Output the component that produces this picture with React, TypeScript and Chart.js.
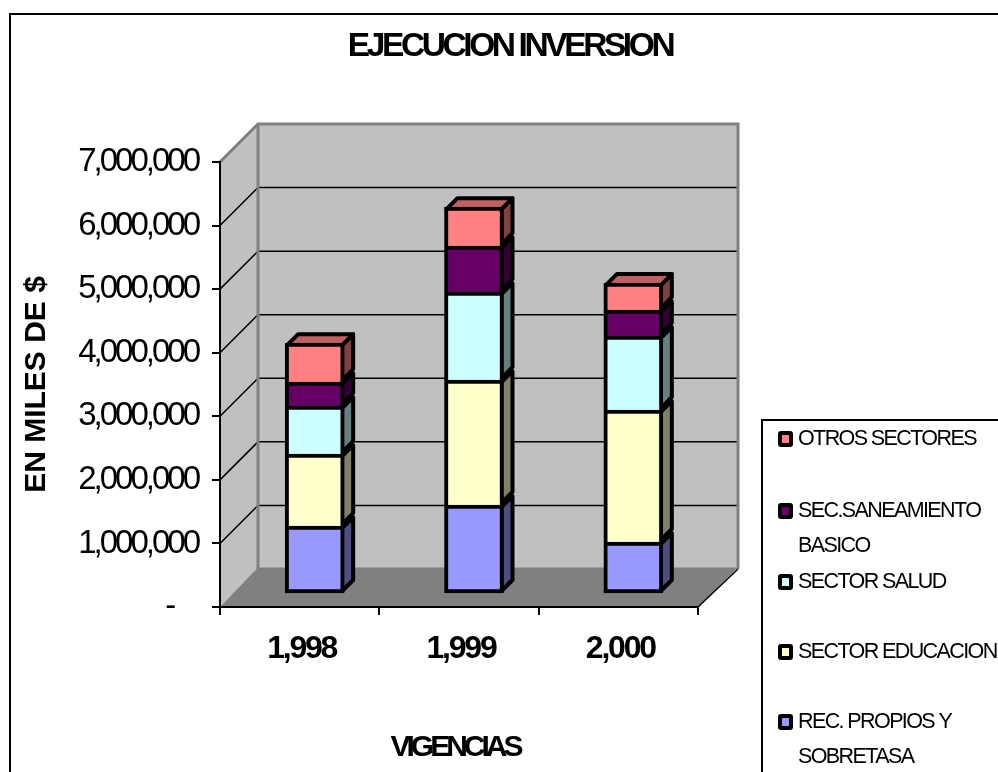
import React, { useEffect, useRef } from "react";
import { Chart, registerables } from "chart.js";

Chart.register(...registerables);

const FONT = '"Liberation Sans", Arial, sans-serif';

const categories = ["1,998", "1,999", "2,000"];
const chartTitle = "EJECUCION INVERSION";
const yTitle = "EN MILES DE $";
const xTitle = "VIGENCIAS";

const recPropios = [1069000, 1400000, 818000];
const educacion = [1132000, 1965000, 2075000];
const salud = [755000, 1384000, 1164000];
const saneamiento = [377000, 723000, 409000];
const otros = [613000, 613000, 425000];

const seriesNames = [
  "REC. PROPIOS Y SOBRETASA",
  "SECTOR EDUCACION",
  "SECTOR SALUD",
  "SEC.SANEAMIENTO BASICO",
  "OTROS SECTORES",
];
const seriesValues = [recPropios, educacion, salud, saneamiento, otros];
const frontColors = ["#9999FF", "#FFFFCC", "#CCFFFF", "#660066", "#FF8080"];
const sideColors = ["#4D4D80", "#808066", "#668080", "#330033", "#804040"];
const topColor = "#C06060";

const legendRows = [
  { series: 4, lines: ["OTROS SECTORES"], y: 439 },
  { series: 3, lines: ["SEC.SANEAMIENTO", "BASICO"], y: 511 },
  { series: 2, lines: ["SECTOR SALUD"], y: 582 },
  { series: 1, lines: ["SECTOR EDUCACION"], y: 652 },
  { series: 0, lines: ["REC. PROPIOS Y", "SOBRETASA"], y: 722 },
];

const WALL_X = 38;
const WALL_Y = 38;
const BAR_SHIFT_X = 15;
const BAR_SHIFT_Y = 13;
const BAR_DEPTH = 11;
const BAR_LINE = 4;

function spaced(obj: any, method: string, spacing: string, dx = 0) {
  const original = obj[method];
  obj[method] = function (...args: any[]) {
    const ctx = this.ctx;
    ctx.save();
    ctx.letterSpacing = spacing;
    ctx.translate(dx, 0);
    original.apply(this, args);
    ctx.restore();
  };
}

const chart3d = {
  id: "chart3d",
  afterLayout(chart: any) {
    const t = chart.titleBlock;
    if (t && !t.__patched) {
      t.__patched = true;
      spaced(t, "draw", "-3.4px");
    }
    if (t) {
      t.left = 22;
      t.right = 998;
    }
    const { x, y } = chart.scales;
    if (!x.__patched) {
      x.__patched = true;
      y.__patched = true;
      spaced(x, "drawLabels", "-2.2px", 2);
      spaced(y, "drawLabels", "-3px");
      spaced(x, "drawTitle", "-4px", -4);
    }
  },
  beforeDraw(chart: any) {
    const ctx = chart.ctx;
    const { left, right, top, bottom } = chart.chartArea;
    const y = chart.scales.y;
    ctx.save();
    ctx.strokeStyle = "#000";
    ctx.lineWidth = 2;
    ctx.strokeRect(10, 14, 2000, 2000);

    const poly = (pts: number[][], fill?: string) => {
      ctx.beginPath();
      pts.forEach((p, i) => (i ? ctx.lineTo(p[0], p[1]) : ctx.moveTo(p[0], p[1])));
      ctx.closePath();
      if (fill) {
        ctx.fillStyle = fill;
        ctx.fill();
      }
    };
    const bx = left + WALL_X;
    const brx = right + WALL_X + 2;
    const by = bottom - WALL_Y;
    const ty = top - WALL_Y;
    poly([[left, bottom], [bx, by], [bx, ty], [left, top]], "#C0C0C0");
    poly([[bx, by], [brx, by], [brx, ty], [bx, ty]], "#C0C0C0");
    poly([[left, bottom], [bx, by - 1.5], [brx, by - 1.5], [right, bottom]], "#808080");

    ctx.strokeStyle = "#000";
    ctx.lineWidth = 1.5;
    y.ticks.forEach((t: any) => {
      if (t.value <= 0 || t.value >= y.max) return;
      const py = y.getPixelForValue(t.value);
      ctx.beginPath();
      ctx.moveTo(left, py);
      ctx.lineTo(bx, py - WALL_Y);
      ctx.lineTo(brx, py - WALL_Y);
      ctx.stroke();
    });

    ctx.strokeStyle = "#808080";
    ctx.lineWidth = 3;
    ctx.lineJoin = "miter";
    ctx.beginPath();
    ctx.moveTo(left, top);
    ctx.lineTo(bx, ty);
    ctx.lineTo(brx, ty);
    ctx.lineTo(brx, by);
    ctx.moveTo(bx, ty);
    ctx.lineTo(bx, by);
    ctx.stroke();
    ctx.beginPath();
    ctx.moveTo(brx, by);
    ctx.lineTo(right, bottom);
    ctx.strokeStyle = "#000";
    ctx.lineWidth = 1.5;
    ctx.stroke();
    ctx.restore();
  },
  beforeDatasetsDraw(chart: any) {
    const ctx = chart.ctx;
    ctx.save();
    ctx.translate(BAR_SHIFT_X, -BAR_SHIFT_Y);
    ctx.lineWidth = BAR_LINE;
    ctx.lineJoin = "round";
    ctx.strokeStyle = "#000";
    const n = chart.data.datasets.length;
    const half = BAR_LINE / 2;
    for (let d = 0; d < n; d++) {
      const meta = chart.getDatasetMeta(d);
      meta.data.forEach((bar: any) => {
        const { x, y, base, width } = bar.getProps(["x", "y", "base", "width"], true);
        const r = x + width / 2 - half;
        const l = x - width / 2 + half;
        const t = y + half;
        const b = base - half;
        ctx.beginPath();
        ctx.moveTo(r, t);
        ctx.lineTo(r + BAR_DEPTH, t - BAR_DEPTH);
        ctx.lineTo(r + BAR_DEPTH, b - BAR_DEPTH);
        ctx.lineTo(r, b);
        ctx.closePath();
        ctx.fillStyle = sideColors[d];
        ctx.fill();
        ctx.stroke();
        if (d === n - 1) {
          ctx.beginPath();
          ctx.moveTo(l, t);
          ctx.lineTo(l + BAR_DEPTH, t - BAR_DEPTH);
          ctx.lineTo(r + BAR_DEPTH, t - BAR_DEPTH);
          ctx.lineTo(r, t);
          ctx.closePath();
          ctx.fillStyle = topColor;
          ctx.fill();
          ctx.stroke();
        }
      });
    }
  },
  afterDatasetsDraw(chart: any) {
    chart.ctx.restore();
  },
  afterDraw(chart: any) {
    const ctx = chart.ctx;
    ctx.save();
    ctx.strokeStyle = "#000";
    ctx.lineWidth = 2;
    ctx.fillStyle = "#fff";
    ctx.fillRect(762, 420, 400, 500);
    ctx.strokeRect(762, 420, 400, 500);
    ctx.font = `21.5px ${FONT}`;
    ctx.letterSpacing = "-1.6px";
    ctx.textBaseline = "middle";
    legendRows.forEach((row) => {
      ctx.fillStyle = frontColors[row.series];
      ctx.lineWidth = 4;
      ctx.beginPath();
      ctx.roundRect(780, row.y - 6, 11, 12, 1);
      ctx.fill();
      ctx.stroke();
      ctx.fillStyle = "#000";
      row.lines.forEach((line, i) => ctx.fillText(line, 798, row.y + i * 35));
    });
    ctx.restore();
  },
};

export default function App() {
  const ref = useRef<HTMLCanvasElement>(null);
  useEffect(() => {
    document.body.style.margin = "0";
    const chart = new Chart(ref.current as HTMLCanvasElement, {
      type: "bar",
      data: {
        labels: categories,
        datasets: seriesNames.map((label, i) => ({
          label,
          data: seriesValues[i],
          backgroundColor: frontColors[i],
          borderColor: "#000",
          borderWidth: BAR_LINE,
          borderSkipped: i === 0 ? false : "start",
          barThickness: 59,
          clip: false,
        })) as any,
      },
      options: {
        responsive: false,
        animation: false,
        layout: { padding: { left: 0, right: 300, top: 0, bottom: 0 } },
        plugins: {
          legend: { display: false },
          tooltip: { enabled: false },
          title: {
            display: true,
            text: chartTitle,
            color: "#000",
            font: { family: FONT, size: 33.5, weight: "bold" },
            padding: { top: 26.5, bottom: 95.3 },
          },
        },
        scales: {
          x: {
            stacked: true,
            afterFit: (s: any) => {
              s.height = 165;
            },
            grid: { drawOnChartArea: false, color: "#000", lineWidth: 2, tickLength: 8 },
            border: { display: true, color: "#000", width: 2 },
            ticks: {
              color: "#000",
              padding: 15,
              maxRotation: 0,
              autoSkip: false,
              font: { family: FONT, size: 32, weight: "bold" },
            },
            title: {
              display: true,
              text: xTitle,
              color: "#000",
              font: { family: FONT, size: 30, weight: "bold" },
              padding: { top: 6, bottom: 6 },
            },
          },
          y: {
            stacked: true,
            min: 0,
            max: 7000000,
            afterFit: (s: any) => {
              s.width = 220;
            },
            grid: { drawOnChartArea: false, color: "#000", lineWidth: 2, tickLength: 8 },
            border: { display: true, color: "#000", width: 2 },
            ticks: {
              stepSize: 1000000,
              color: "#000",
              padding: 14,
              font: { family: FONT, size: 33 },
              callback: (v: any) => (Number(v) === 0 ? "-    " : Number(v).toLocaleString("en-US")),
            },
            title: {
              display: true,
              text: yTitle,
              color: "#000",
              font: { family: FONT, size: 30, weight: "bold" },
              padding: { top: 19, bottom: 19 },
            },
          },
        },
      },
      plugins: [chart3d],
    } as any);
    return () => chart.destroy();
  }, []);
  return <canvas ref={ref} width={998} height={772} style={{ display: "block" }} />;
}
